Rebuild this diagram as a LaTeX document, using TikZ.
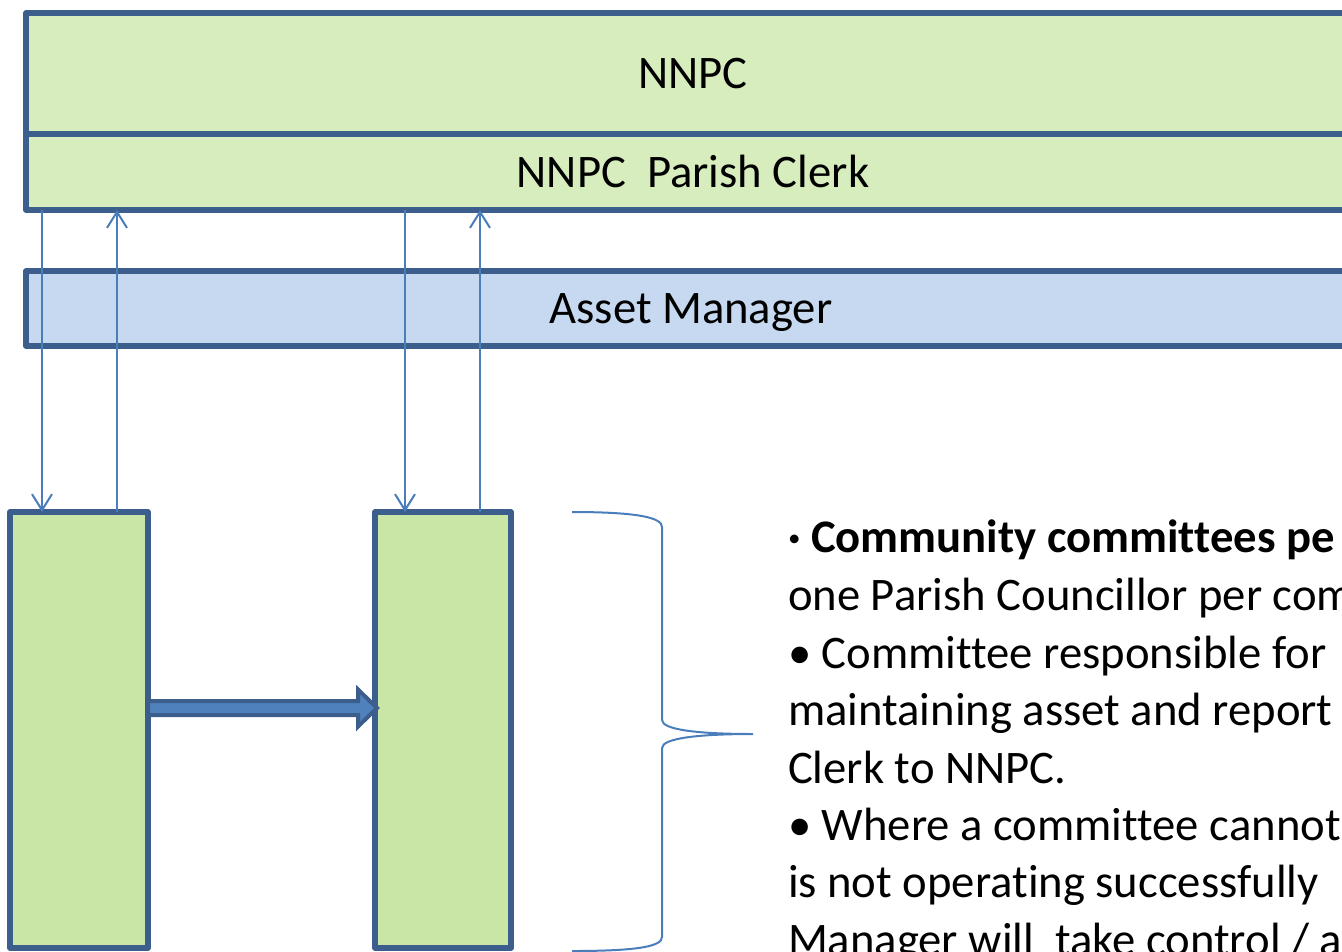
\documentclass[tikz,border=0pt]{standalone}
\usepackage{fontspec}
\setmainfont{Carlito}[Ligatures=CommonOff]
\usetikzlibrary{arrows.meta,calc}
\definecolor{boxline}{HTML}{3B5E8C}
\definecolor{topfill}{HTML}{D7EDBE}
\definecolor{colfill}{HTML}{C9E6A6}
\definecolor{assetfill}{HTML}{C6D9F0}
\definecolor{linkblue}{HTML}{4A7EBB}
\definecolor{blockblue}{HTML}{4F81BD}
\begin{document}
\begin{tikzpicture}[x=0.75pt,y=-0.75pt,
  panel/.style={draw=boxline,line width=3.9pt,line join=round,inner sep=0pt,outer sep=0pt,
     anchor=center,font=\fontsize{35}{42}\selectfont,text height=22.5pt,text depth=0pt},
  conn/.style={draw=linkblue,line width=1.5pt,-{Straight Barb[length=12pt,width=15pt]}},
  blockarrow/.style={draw=boxline,fill=blockblue,line width=3pt,line join=miter},
  bracepath/.style={draw=linkblue,line width=1.5pt},
  bodytext/.style={anchor=base west,inner sep=0pt,outer sep=0pt,font=\fontsize{35}{42}\selectfont}]
\useasboundingbox (0,0) rectangle (1342,951);
\clip (0,0) rectangle (1342,951);
% panels
\node[panel,fill=topfill,minimum width=1000.5pt,minimum height=90.75pt] (nnpc) at (693,73.5) {NNPC};
\node[panel,fill=topfill,minimum width=1000.5pt,minimum height=57pt] (parish) at (693,172) {NNPC\ \ Parish Clerk};
\node[panel,fill=assetfill,minimum width=997.5pt,minimum height=56.25pt] (asset) at (691,308.5) {Asset Manager};
\node[panel,fill=colfill,minimum width=103.5pt,minimum height=327pt] (lcol) at (79,730) {};
\node[panel,fill=colfill,minimum width=102pt,minimum height=327pt] (rcol) at (443,730) {};
% thin connectors
\coordinate (l1) at ([xshift=24pt]lcol.north west);
\coordinate (l2) at ([xshift=80.25pt]lcol.north west);
\coordinate (r1) at ([xshift=22.5pt]rcol.north west);
\coordinate (r2) at ([xshift=78.75pt]rcol.north west);
\draw[conn] (l1 |- parish.south) -- (l1);
\draw[conn] (l2) -- (l2 |- parish.south);
\draw[conn] (r1 |- parish.south) -- (r1);
\draw[conn] (r2) -- (r2 |- parish.south);
% block arrow
\coordinate (ba) at ($(lcol.north east)+(0,196)$);
\coordinate (bb) at ($(ba -| rcol.west)+(2,0)$);
\draw[blockarrow] ($(ba)+(0,-7)$) -- ($(bb)+(-19,-7)$) -- ($(bb)+(-19,-18.5)$) -- (bb)
  -- ($(bb)+(-19,18.5)$) -- ($(bb)+(-19,7)$) -- ($(ba)+(0,7)$) -- cycle;
% brace
\coordinate (bracetip) at (753,734);
\draw[bracepath] (572,512) .. controls (640,512) and (662,518) .. (662,527) -- (662,720)
  .. controls (662,730) and (700,734) .. (bracetip)
  .. controls (700,734) and (662,738) .. (662,748) -- (662,937)
  .. controls (662,946) and (640,951) .. (572,951);
% text
\node[bodytext] (t1) at (788,552) {\textbf{· Community committees pe}};
\node[bodytext] (t2) at (788,610) {one Parish Councillor per com};
\node[bodytext] (t3) at (788,668) {• Committee responsible for};
\node[bodytext] (t4) at (788,725) {maintaining asset and report};
\node[bodytext] (t5) at (788,783) {Clerk to NNPC.};
\node[bodytext] (t6) at (788,840) {• Where a committee cannot};
\node[bodytext] (t7) at (788,897) {is not operating successfully};
\node[bodytext] (t8) at (788,955) {Manager will\ \ take control / a};
\end{tikzpicture}
\end{document}
